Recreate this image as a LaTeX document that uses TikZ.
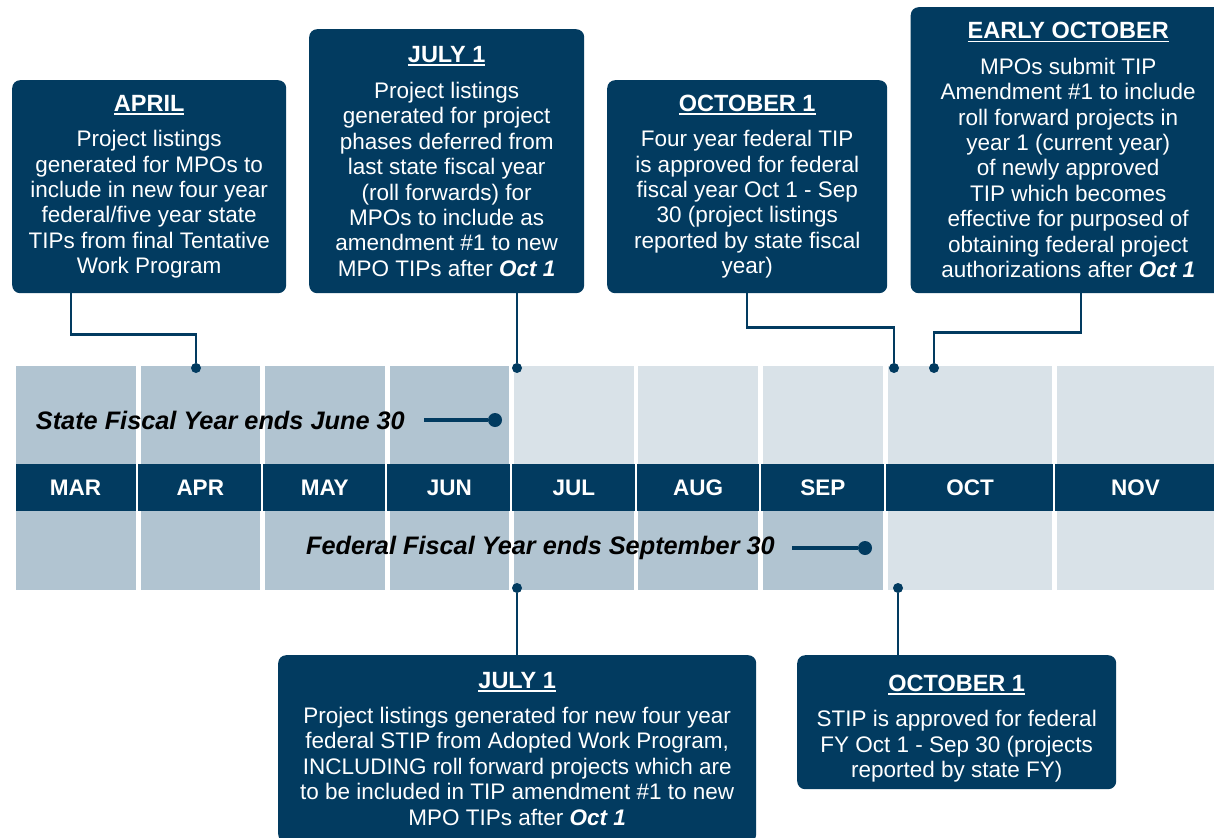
\documentclass[tikz,border=0pt]{standalone}
\usepackage{fontspec}
\setmainfont{Liberation Sans}
\definecolor{navy}{RGB}{2,59,96}
\definecolor{pastcol}{RGB}{177,196,209}
\definecolor{futcol}{RGB}{217,226,232}
\newcommand{\ttl}[1]{{\bfseries\fontsize{23.5}{25.4}\selectfont\setbox0=\hbox{#1}\rlap{\rule[-3.5pt]{\wd0}{1.6pt}}\box0}}
\newcommand{\octone}{\textbf{\textit{Oct 1}}}
\tikzset{
  box/.style={fill=navy, rounded corners=8pt, text=white, align=center, inner sep=0pt,
    anchor=north west, font=\fontsize{22.5}{25.4}\selectfont},
  conn/.style={draw=navy, line width=2.2pt},
  dotc/.style={circle, fill=navy, inner sep=0pt, minimum size=10pt},
  bigdot/.style={circle, fill=navy, inner sep=0pt, minimum size=14pt},
  month/.style={text=white, font=\bfseries\fontsize{22.5}{24}\selectfont},
  band/.style={font=\bfseries\itshape\fontsize{25.3}{27}\selectfont, text=black, anchor=east, inner sep=0pt},
  bandline/.style={draw=navy, line width=3.5pt},
}
\begin{document}
\begin{tikzpicture}[x=1pt, y=-1pt]
\useasboundingbox[fill=white] (0,0) rectangle (1214,837);
\clip (0,0) rectangle (1214,837);

% timeline band
\fill[navy] (15.5,464) rectangle (1214,511);
\foreach \l/\r/\m/\cu/\cl in {15.5/135.5/MAR/pastcol/pastcol, 140.5/260/APR/pastcol/pastcol,
   265/384.5/MAY/pastcol/pastcol, 389.5/509/JUN/pastcol/pastcol, 514/633.5/JUL/futcol/pastcol,
   638/758/AUG/futcol/pastcol, 762.5/883/SEP/futcol/pastcol, 888/1052/OCT/futcol/futcol,
   1057/1214/NOV/futcol/futcol}{
  \fill[\cu] (\l,366) rectangle (\r,464);
  \fill[\cl] (\l,511) rectangle (\r,590);
  \node[month] (m\m) at ({(\l+\r)/2},488) {\m};
}
\foreach \s in {137.2,261.8,386.3,511,635.5,760,884.8,1054}{
  \draw[white, line width=2pt] (\s,464) -- (\s,511);
}

% band labels
\node[band] (sfy) at (405,420) {State Fiscal Year ends June 30};
\node[bigdot] (sd) at (495,420) {};
\draw[bandline] ([xshift=19pt]sfy.east) -- (sd);
\node[band] (ffy) at (775,548) {Federal Fiscal Year ends September 30};
\node[bigdot] (fd) at (865,548) {};
\draw[bandline] ([xshift=17pt]ffy.east) -- (fd);

% boxes
\node[box, minimum width=274pt, minimum height=213pt] (apr) at (12,80) {%
\ttl{APRIL}\\[10pt]
Project listings\\
generated for MPOs to\\
include in new four year\\
federal/five year state\\
TIPs from final Tentative\\
Work Program};

\node[box, minimum width=275pt, minimum height=264pt] (julA) at (309,29) {%
\ttl{JULY 1}\\[11pt]
Project listings\\
generated for project\\
phases deferred from\\
last state fiscal year\\
(roll forwards) for\\
MPOs to include as\\
amendment \#1 to new\\
MPO TIPs after \octone};

\node[box, minimum width=280pt, minimum height=213pt] (octA) at (607,80) {%
\ttl{OCTOBER 1}\\[10pt]
Four year federal TIP\\
is approved for federal\\
fiscal year Oct 1 - Sep\\
30 (project listings\\
reported by state fiscal\\
year)};

\node[box, minimum width=315pt, minimum height=286pt] (early) at (910.5,7) {%
\ttl{EARLY OCTOBER}\\[10pt]
MPOs submit TIP\\
Amendment \#1 to include\\
roll forward projects in\\
year 1 (current year)\\
of newly approved\\
TIP which becomes\\
effective for purposed of\\
obtaining federal project\\
authorizations after \octone};

\node[box, minimum width=478pt, minimum height=187pt] (julB) at (278,655) {%
\ttl{JULY 1}\\[10pt]
Project listings generated for new four year\\
federal STIP from Adopted Work Program,\\
INCLUDING roll forward projects which are\\
to be included in TIP amendment \#1 to new\\
MPO TIPs after \octone};

\node[box, minimum width=319pt, minimum height=134pt] (octB) at (797,655) {%
\rule{0pt}{29pt}\ttl{OCTOBER 1}\\[10pt]
STIP is approved for federal\\
FY Oct 1 - Sep 30 (projects\\
reported by state FY)};

% dots on the band
\node[dotc] (d1) at (196,368) {};
\node[dotc] (d2) at (517,368) {};
\node[dotc] (d3) at (894,368) {};
\node[dotc] (d4) at (934,368) {};
\node[dotc] (d5) at (517,588) {};
\node[dotc] (d6) at (898,588) {};

% connectors
\draw[conn] ([xshift=59pt]apr.south west) -- ++(0,41) -| (d1);
\draw[conn] (julA.south -| d2) -- (d2);
\draw[conn] (octA.south) -- ++(0,34) -| (d3);
\draw[conn] ([xshift=170.5pt]early.south west) -- ++(0,39) -| (d4);
\draw[conn] (d5) -- (d5 |- julB.north);
\draw[conn] (d6) -- (d6 |- octB.north);
\end{tikzpicture}
\end{document}
